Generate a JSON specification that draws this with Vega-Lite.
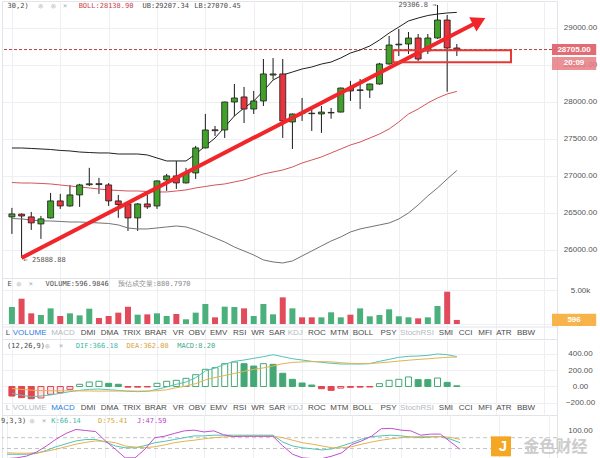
{
"$schema": "https://vega.github.io/schema/vega-lite/v6.json",
"padding": 0, "spacing": 0, "bounds": "flush", "background": "#ffffff",
"config": {"view": {"stroke": "#e2e4ea"},
 "axisX": {"title": null, "labels": false, "ticks": false, "domain": false, "grid": true, "gridColor": "#edeff3", "values": [5.9, 11.9, 17.9, 23.9, 29.9, 35.9, 41.9, 47.9, 53.9]},
 "axisY": {"title": null, "ticks": false, "domain": false, "grid": true, "gridColor": "#edeff3", "labelAlign": "center", "labelPadding": 23, "labelFont": "Liberation Sans", "labelFontSize": 8, "labelColor": "#555555"}},
"datasets": {
"candles": [
{"i":0,"o":26443,"h":26565,"l":26213,"c":26483,"dir":"G","vol":2500,"up":27374,"mid":26908,"lo":26421,"hist":-117,"hk":"RS","hs":"R","dif":-84,"dea":-25,"k":34,"d":38,"j":22},
{"i":1,"o":26480,"h":26490,"l":25888.88,"c":26455,"dir":"R","vol":3720,"up":27374,"mid":26901,"lo":26415,"hist":-137,"hk":"RS","hs":"R","dif":-108,"dea":-35,"k":34,"d":37,"j":24},
{"i":2,"o":26443,"h":26510,"l":26267,"c":26362,"dir":"R","vol":1570,"up":27368,"mid":26901,"lo":26401,"hist":-150,"hk":"RS","hs":"R","dif":-125,"dea":-45,"k":34,"d":37,"j":29},
{"i":3,"o":26348,"h":26456,"l":26146,"c":26416,"dir":"G","vol":1320,"up":27361,"mid":26895,"lo":26388,"hist":-141,"hk":"RH","hs":"R","dif":-117,"dea":-50,"k":36,"d":38,"j":40},
{"i":4,"o":26429,"h":26767,"l":26420,"c":26659,"dir":"G","vol":2300,"up":27354,"mid":26888,"lo":26388,"hist":-96,"hk":"RH","hs":"R","dif":-103,"dea":-52,"k":45,"d":42,"j":57},
{"i":5,"o":26659,"h":26754,"l":26551,"c":26591,"dir":"R","vol":1180,"up":27341,"mid":26874,"lo":26381,"hist":-76,"hk":"RH","hs":"R","dif":-84,"dea":-53,"k":55,"d":48,"j":76},
{"i":6,"o":26591,"h":26875,"l":26580,"c":26740,"dir":"G","vol":1570,"up":27334,"mid":26861,"lo":26374,"hist":-35,"hk":"RH","hs":"R","dif":-63,"dea":-53,"k":63,"d":55,"j":92},
{"i":7,"o":26740,"h":26890,"l":26578,"c":26875,"dir":"G","vol":1270,"up":27320,"mid":26847,"lo":26374,"hist":27,"hk":"GH","hs":"G","dif":-47,"dea":-54,"k":71,"d":62,"j":103},
{"i":8,"o":26878,"h":27106,"l":26860,"c":26890,"dir":"G","vol":2250,"up":27313,"mid":26834,"lo":26367,"hist":55,"hk":"GH","hs":"G","dif":-35,"dea":-55,"k":75,"d":67,"j":100},
{"i":9,"o":26892,"h":26970,"l":26754,"c":26880,"dir":"R","vol":880,"up":27307,"mid":26820,"lo":26361,"hist":64,"hk":"GH","hs":"G","dif":-31,"dea":-56,"k":75,"d":71,"j":97},
{"i":10,"o":26875,"h":26900,"l":26591,"c":26659,"dir":"R","vol":1180,"up":27307,"mid":26807,"lo":26354,"hist":39,"hk":"GS","hs":"G","dif":-39,"dea":-56,"k":68,"d":70,"j":71},
{"i":11,"o":26659,"h":26740,"l":26430,"c":26610,"dir":"R","vol":1670,"up":27293,"mid":26800,"lo":26334,"hist":27,"hk":"GS","hs":"G","dif":-47,"dea":-56,"k":57,"d":66,"j":48},
{"i":12,"o":26618,"h":26630,"l":26253,"c":26429,"dir":"R","vol":2550,"up":27293,"mid":26793,"lo":26293,"hist":-8,"hk":"RS","hs":"R","dif":-59,"dea":-55,"k":52,"d":57,"j":24},
{"i":13,"o":26429,"h":26630,"l":26253,"c":26618,"dir":"G","vol":1370,"up":27293,"mid":26793,"lo":26280,"hist":-8,"hk":"RS","hs":"R","dif":-63,"dea":-56,"k":52,"d":54,"j":24},
{"i":14,"o":26618,"h":26740,"l":26551,"c":26578,"dir":"R","vol":1420,"up":27280,"mid":26786,"lo":26280,"hist":-6,"hk":"RS","hs":"R","dif":-59,"dea":-56,"k":58,"d":52,"j":48},
{"i":15,"o":26591,"h":26935,"l":26551,"c":26929,"dir":"G","vol":1570,"up":27239,"mid":26780,"lo":26293,"hist":39,"hk":"GH","hs":"G","dif":-35,"dea":-52,"k":66,"d":55,"j":80},
{"i":16,"o":26943,"h":27024,"l":26794,"c":26997,"dir":"G","vol":1180,"up":27199,"mid":26780,"lo":26307,"hist":64,"hk":"GH","hs":"G","dif":-6,"dea":-40,"k":70,"d":60,"j":84},
{"i":17,"o":26997,"h":27200,"l":26821,"c":26902,"dir":"R","vol":1470,"up":27199,"mid":26793,"lo":26320,"hist":76,"hk":"GH","hs":"G","dif":27,"dea":-15,"k":75,"d":66,"j":92},
{"i":18,"o":26902,"h":27105,"l":26895,"c":27037,"dir":"G","vol":690,"up":27199,"mid":26807,"lo":26307,"hist":100,"hk":"GH","hs":"G","dif":55,"dea":5,"k":80,"d":70,"j":99},
{"i":19,"o":27037,"h":27402,"l":26956,"c":27375,"dir":"G","vol":1670,"up":27293,"mid":26834,"lo":26266,"hist":145,"hk":"GH","hs":"G","dif":108,"dea":35,"k":85,"d":73,"j":101},
{"i":20,"o":27375,"h":27834,"l":27370,"c":27618,"dir":"G","vol":2940,"up":27401,"mid":26854,"lo":26212,"hist":211,"hk":"GH","hs":"G","dif":190,"dea":80,"k":85,"d":77,"j":96},
{"i":21,"o":27620,"h":27672,"l":27537,"c":27608,"dir":"R","vol":980,"up":27509,"mid":26874,"lo":26158,"hist":231,"hk":"GH","hs":"G","dif":227,"dea":110,"k":87,"d":80,"j":99},
{"i":22,"o":27618,"h":28000,"l":27510,"c":27996,"dir":"G","vol":2550,"up":27658,"mid":26888,"lo":26104,"hist":280,"hk":"GH","hs":"G","dif":272,"dea":135,"k":87,"d":82,"j":88},
{"i":23,"o":27996,"h":28239,"l":27807,"c":28050,"dir":"G","vol":2500,"up":27807,"mid":26915,"lo":26036,"hist":300,"hk":"GH","hs":"G","dif":309,"dea":160,"k":87,"d":84,"j":83},
{"i":24,"o":28064,"h":28199,"l":27712,"c":27901,"dir":"R","vol":2300,"up":27915,"mid":26942,"lo":25982,"hist":280,"hk":"GS","hs":"G","dif":325,"dea":185,"k":87,"d":84,"j":84},
{"i":25,"o":27901,"h":28145,"l":27834,"c":28010,"dir":"G","vol":1180,"up":28009,"mid":26982,"lo":25928,"hist":251,"hk":"GS","hs":"G","dif":346,"dea":210,"k":87,"d":84,"j":84},
{"i":26,"o":28010,"h":28577,"l":27942,"c":28375,"dir":"G","vol":2940,"up":28145,"mid":27023,"lo":25861,"hist":280,"hk":"GH","hs":"G","dif":366,"dea":228,"k":87,"d":84,"j":84},
{"i":27,"o":28360,"h":28590,"l":28300,"c":28375,"dir":"G","vol":1420,"up":28293,"mid":27050,"lo":25834,"hist":272,"hk":"GS","hs":"G","dif":390,"dea":252,"k":87,"d":84,"j":84},
{"i":28,"o":28375,"h":28577,"l":27510,"c":27740,"dir":"R","vol":3920,"up":28361,"mid":27077,"lo":25820,"hist":162,"hk":"GS","hs":"G","dif":366,"dea":280,"k":68,"d":80,"j":57},
{"i":29,"o":27726,"h":27840,"l":27361,"c":27834,"dir":"G","vol":2300,"up":28401,"mid":27117,"lo":25847,"hist":88,"hk":"GS","hs":"G","dif":341,"dea":295,"k":57,"d":73,"j":34},
{"i":30,"o":27852,"h":28050,"l":27740,"c":27843,"dir":"R","vol":980,"up":28442,"mid":27171,"lo":25915,"hist":43,"hk":"GS","hs":"G","dif":325,"dea":302,"k":52,"d":66,"j":24},
{"i":31,"o":27845,"h":27905,"l":27605,"c":27838,"dir":"R","vol":980,"up":28469,"mid":27212,"lo":25982,"hist":18,"hk":"GS","hs":"G","dif":309,"dea":305,"k":49,"d":62,"j":22},
{"i":32,"o":27834,"h":27942,"l":27578,"c":27860,"dir":"G","vol":980,"up":28509,"mid":27253,"lo":26050,"hist":-27,"hk":"RS","hs":"R","dif":297,"dea":305,"k":46,"d":57,"j":22},
{"i":33,"o":27848,"h":27915,"l":27770,"c":27855,"dir":"G","vol":1720,"up":28536,"mid":27307,"lo":26117,"hist":-47,"hk":"RS","hs":"R","dif":285,"dea":302,"k":49,"d":52,"j":29},
{"i":34,"o":27860,"h":28190,"l":27855,"c":28185,"dir":"G","vol":980,"up":28591,"mid":27361,"lo":26172,"hist":-20,"hk":"RH","hs":"R","dif":276,"dea":292,"k":57,"d":52,"j":38},
{"i":35,"o":28185,"h":28280,"l":28010,"c":28145,"dir":"R","vol":1370,"up":28658,"mid":27415,"lo":26239,"hist":-10,"hk":"RS","hs":"R","dif":276,"dea":284,"k":66,"d":55,"j":61},
{"i":36,"o":28152,"h":28307,"l":27901,"c":28160,"dir":"G","vol":2300,"up":28699,"mid":27455,"lo":26280,"hist":-8,"hk":"RS","hs":"R","dif":276,"dea":281,"k":76,"d":62,"j":71},
{"i":37,"o":28158,"h":28245,"l":28050,"c":28239,"dir":"G","vol":1130,"up":28753,"mid":27509,"lo":26307,"hist":-6,"hk":"RS","hs":"R","dif":280,"dea":283,"k":83,"d":68,"j":84},
{"i":38,"o":28239,"h":28525,"l":28230,"c":28510,"dir":"G","vol":1320,"up":28834,"mid":27563,"lo":26334,"hist":35,"hk":"GH","hs":"G","dif":309,"dea":290,"k":85,"d":73,"j":105},
{"i":39,"o":28510,"h":28888,"l":28500,"c":28766,"dir":"G","vol":2160,"up":28928,"mid":27631,"lo":26361,"hist":76,"hk":"GH","hs":"G","dif":333,"dea":300,"k":87,"d":77,"j":106},
{"i":40,"o":28768,"h":28982,"l":28618,"c":28778,"dir":"G","vol":1130,"up":29009,"mid":27726,"lo":26415,"hist":88,"hk":"GH","hs":"G","dif":358,"dea":312,"k":85,"d":80,"j":101},
{"i":41,"o":28780,"h":28942,"l":28645,"c":28861,"dir":"G","vol":980,"up":29091,"mid":27834,"lo":26496,"hist":117,"hk":"GH","hs":"G","dif":370,"dea":322,"k":82,"d":82,"j":99},
{"i":42,"o":28861,"h":28915,"l":28550,"c":28577,"dir":"R","vol":830,"up":29131,"mid":27901,"lo":26604,"hist":84,"hk":"GS","hs":"G","dif":374,"dea":332,"k":80,"d":83,"j":87},
{"i":43,"o":28686,"h":28915,"l":28645,"c":28861,"dir":"G","vol":980,"up":29165,"mid":27982,"lo":26726,"hist":84,"hk":"GS","hs":"G","dif":382,"dea":340,"k":82,"d":83,"j":90},
{"i":44,"o":28861,"h":29306.8,"l":28850,"c":29104,"dir":"G","vol":2650,"up":29185,"mid":28050,"lo":26834,"hist":104,"hk":"GH","hs":"G","dif":399,"dea":350,"k":83,"d":83,"j":90},
{"i":45,"o":29104,"h":29172,"l":28135,"c":28726,"dir":"R","vol":4750,"up":29199,"mid":28104,"lo":26955,"hist":51,"hk":"GS","hs":"G","dif":390,"dea":358,"k":76,"d":81,"j":69},
{"i":46,"o":28726,"h":28780,"l":28618,"c":28705,"dir":"R","vol":597,"up":29207.34,"mid":28138.9,"lo":27070.45,"hist":8.2,"hk":"GS","hs":"G","dif":366.18,"dea":362.08,"k":66.14,"d":75.41,"j":47.59}
],
"tabs": [
{"t":"L","i":-0.41,"s1":"n","s2":"m"},
{"t":"VOLUME","i":1.83,"s1":"a","s2":"m"},
{"t":"MACD","i":5.28,"s1":"m","s2":"a"},
{"t":"DMI","i":7.87,"s1":"n","s2":"n"},
{"t":"DMA","i":10.1,"s1":"n","s2":"n"},
{"t":"TRIX","i":12.39,"s1":"n","s2":"n"},
{"t":"BRAR","i":14.87,"s1":"n","s2":"n"},
{"t":"VR","i":17.21,"s1":"n","s2":"n"},
{"t":"OBV","i":19.14,"s1":"n","s2":"n"},
{"t":"EMV","i":21.37,"s1":"n","s2":"n"},
{"t":"RSI","i":23.55,"s1":"n","s2":"n"},
{"t":"WR","i":25.43,"s1":"n","s2":"n"},
{"t":"SAR","i":27.41,"s1":"n","s2":"n"},
{"t":"KDJ","i":29.29,"s1":"m","s2":"m"},
{"t":"ROC","i":31.52,"s1":"n","s2":"n"},
{"t":"MTM","i":33.86,"s1":"n","s2":"n"},
{"t":"BOLL","i":36.29,"s1":"n","s2":"n"},
{"t":"PSY","i":38.93,"s1":"n","s2":"n"},
{"t":"StochRSI","i":41.88,"s1":"m","s2":"m"},
{"t":"SMI","i":44.87,"s1":"n","s2":"n"},
{"t":"CCI","i":46.9,"s1":"n","s2":"n"},
{"t":"MFI","i":48.93,"s1":"n","s2":"n"},
{"t":"ATR","i":50.86,"s1":"n","s2":"n"},
{"t":"BBW","i":53.15,"s1":"n","s2":"n"}
]
},
"vconcat": [
{
"width": 555, "height": 277,
"resolve": {"scale": {"color": "independent", "fill": "independent", "stroke": "independent", "opacity": "independent"}},
"layer": [
{"data": {"name": "candles"},
 "mark": {"type": "rule", "color": "#1a1a1a", "strokeWidth": 1},
 "encoding": {
  "x": {"field": "i", "type": "quantitative", "scale": {"domain": [-0.5076, 55.838], "nice": false, "zero": false}},
  "y": {"field": "l", "type": "quantitative", "scale": {"domain": [25617, 29361], "nice": false, "zero": false},
   "axis": {"orient": "right", "values": [26000, 26500, 27000, 27500, 28000, 28500, 29000], "format": ".2f"}},
  "y2": {"field": "h"}}},
{"data": {"values": [{"p": 28705}]},
 "mark": {"type": "rule", "color": "#b5484a", "strokeDash": [3, 2], "strokeWidth": 1},
 "encoding": {"y": {"field": "p", "type": "quantitative", "scale": {"domain": [25617, 29361], "nice": false, "zero": false},
   "axis": {"orient": "right", "values": [26000, 26500, 27000, 27500, 28000, 28500, 29000], "format": ".2f"}}}},
{"data": {"name": "candles"},
 "mark": {"type": "line", "color": "#202020", "strokeWidth": 1},
 "encoding": {"x": {"field": "i", "type": "quantitative", "scale": {"domain": [-0.5076, 55.838], "nice": false, "zero": false}},
  "y": {"field": "up", "type": "quantitative", "scale": {"domain": [25617, 29361], "nice": false, "zero": false},
   "axis": {"orient": "right", "values": [26000, 26500, 27000, 27500, 28000, 28500, 29000], "format": ".2f"}}}},
{"data": {"name": "candles"},
 "mark": {"type": "line", "color": "#d4545a", "strokeWidth": 1},
 "encoding": {"x": {"field": "i", "type": "quantitative", "scale": {"domain": [-0.5076, 55.838], "nice": false, "zero": false}},
  "y": {"field": "mid", "type": "quantitative", "scale": {"domain": [25617, 29361], "nice": false, "zero": false},
   "axis": {"orient": "right", "values": [26000, 26500, 27000, 27500, 28000, 28500, 29000], "format": ".2f"}}}},
{"data": {"name": "candles"},
 "mark": {"type": "line", "color": "#737373", "strokeWidth": 1},
 "encoding": {"x": {"field": "i", "type": "quantitative", "scale": {"domain": [-0.5076, 55.838], "nice": false, "zero": false}},
  "y": {"field": "lo", "type": "quantitative", "scale": {"domain": [25617, 29361], "nice": false, "zero": false},
   "axis": {"orient": "right", "values": [26000, 26500, 27000, 27500, 28000, 28500, 29000], "format": ".2f"}}}},
{"data": {"name": "candles"},
 "mark": {"type": "bar", "size": 6, "stroke": "#1a1a1a", "strokeWidth": 0.8},
 "encoding": {"x": {"field": "i", "type": "quantitative", "scale": {"domain": [-0.5076, 55.838], "nice": false, "zero": false}},
  "y": {"field": "o", "type": "quantitative", "scale": {"domain": [25617, 29361], "nice": false, "zero": false},
   "axis": {"orient": "right", "values": [26000, 26500, 27000, 27500, 28000, 28500, 29000], "format": ".2f"}},
  "y2": {"field": "c"},
  "fill": {"field": "dir", "type": "nominal", "scale": {"domain": ["G", "R"], "range": ["#40a02a", "#e8343f"]}, "legend": null}}},
{"data": {"values": [{"i": 1, "p": 25888.88}, {"i": 48.3, "p": 29088}]},
 "mark": {"type": "line", "color": "#f0262a", "strokeWidth": 4},
 "encoding": {"x": {"field": "i", "type": "quantitative", "scale": {"domain": [-0.5076, 55.838], "nice": false, "zero": false}},
  "y": {"field": "p", "type": "quantitative", "scale": {"domain": [25617, 29361], "nice": false, "zero": false},
   "axis": {"orient": "right", "values": [26000, 26500, 27000, 27500, 28000, 28500, 29000], "format": ".2f"}}}},
{"data": {"values": [{"i": 48.3, "p": 29088}]},
 "mark": {"type": "point", "shape": "triangle-right", "size": 260, "angle": 333.3, "filled": true, "color": "#f0262a", "opacity": 1},
 "encoding": {"x": {"field": "i", "type": "quantitative", "scale": {"domain": [-0.5076, 55.838], "nice": false, "zero": false}},
  "y": {"field": "p", "type": "quantitative", "scale": {"domain": [25617, 29361], "nice": false, "zero": false},
   "axis": {"orient": "right", "values": [26000, 26500, 27000, 27500, 28000, 28500, 29000], "format": ".2f"}}}},
{"data": {"values": [{"i": 39.42, "i2": 51.6, "p": 28695, "p2": 28533}]},
 "mark": {"type": "rect", "fill": "transparent", "stroke": "#e53935", "strokeWidth": 2},
 "encoding": {"x": {"field": "i", "type": "quantitative", "scale": {"domain": [-0.5076, 55.838], "nice": false, "zero": false}},
  "x2": {"field": "i2"},
  "y": {"field": "p", "type": "quantitative", "scale": {"domain": [25617, 29361], "nice": false, "zero": false},
   "axis": {"orient": "right", "values": [26000, 26500, 27000, 27500, 28000, 28500, 29000], "format": ".2f"}},
  "y2": {"field": "p2"}}},
{"data": {"values": [{"i": -0.45, "t": "30,2)", "k": "dark"}, {"i": 2.74, "t": "◎", "k": "icon"}, {"i": 4.06, "t": "◎", "k": "icon"}, {"i": 5.28, "t": "✕", "k": "icon"}, {"i": 6.9, "t": "BOLL:28138.90", "k": "boll"}, {"i": 13.5, "t": "UB:29207.34", "k": "dark"}, {"i": 18.85, "t": "LB:27070.45", "k": "dark"}]},
 "mark": {"type": "text", "align": "left", "baseline": "middle", "font": "DejaVu Sans Mono", "fontSize": 7},
 "encoding": {"x": {"field": "i", "type": "quantitative", "scale": {"domain": [-0.5076, 55.838], "nice": false, "zero": false}},
  "y": {"datum": 29293, "type": "quantitative", "scale": {"domain": [25617, 29361], "nice": false, "zero": false},
   "axis": {"orient": "right", "values": [26000, 26500, 27000, 27500, 28000, 28500, 29000], "format": ".2f"}},
  "text": {"field": "t"},
  "color": {"field": "k", "type": "nominal", "scale": {"domain": ["dark", "icon", "boll"], "range": ["#4a4a4a", "#a8a8a8", "#c7434c"]}, "legend": null}}},
{"data": {"values": [{"i": 44, "p": 29306.8, "t": "29306.8 →"}]},
 "mark": {"type": "text", "align": "right", "baseline": "middle", "dx": -1, "font": "DejaVu Sans Mono", "fontSize": 7, "color": "#555555"},
 "encoding": {"x": {"field": "i", "type": "quantitative", "scale": {"domain": [-0.5076, 55.838], "nice": false, "zero": false}},
  "y": {"field": "p", "type": "quantitative", "scale": {"domain": [25617, 29361], "nice": false, "zero": false},
   "axis": {"orient": "right", "values": [26000, 26500, 27000, 27500, 28000, 28500, 29000], "format": ".2f"}},
  "text": {"field": "t"}}},
{"data": {"values": [{"i": 1, "p": 25888.88, "t": "← 25888.88"}]},
 "mark": {"type": "text", "align": "left", "baseline": "middle", "dx": 2, "dy": 2, "font": "DejaVu Sans Mono", "fontSize": 7, "color": "#555555"},
 "encoding": {"x": {"field": "i", "type": "quantitative", "scale": {"domain": [-0.5076, 55.838], "nice": false, "zero": false}},
  "y": {"field": "p", "type": "quantitative", "scale": {"domain": [25617, 29361], "nice": false, "zero": false},
   "axis": {"orient": "right", "values": [26000, 26500, 27000, 27500, 28000, 28500, 29000], "format": ".2f"}},
  "text": {"field": "t"}}},
{"data": {"values": [{"i": 55.838, "i2": 60.41, "p": 28780, "p2": 28631, "k": "a"}, {"i": 55.838, "i2": 60.41, "p": 28604, "p2": 28429, "k": "b"}]},
 "mark": {"type": "rect"},
 "encoding": {"x": {"field": "i", "type": "quantitative", "scale": {"domain": [-0.5076, 55.838], "nice": false, "zero": false}},
  "x2": {"field": "i2"},
  "y": {"field": "p", "type": "quantitative", "scale": {"domain": [25617, 29361], "nice": false, "zero": false},
   "axis": {"orient": "right", "values": [26000, 26500, 27000, 27500, 28000, 28500, 29000], "format": ".2f"}},
  "y2": {"field": "p2"},
  "fill": {"field": "k", "type": "nominal", "scale": {"domain": ["a", "b"], "range": ["#e2646d", "#e77c83"]}, "legend": null},
  "opacity": {"field": "k", "type": "nominal", "scale": {"domain": ["a", "b"], "range": [0.95, 0.85]}, "legend": null}}},
{"data": {"values": [{"i": 58.12, "p": 28705, "t": "28705.00"}, {"i": 58.12, "p": 28517, "t": "20:09"}]},
 "mark": {"type": "text", "align": "center", "baseline": "middle", "font": "Liberation Sans", "fontSize": 8, "fontWeight": "bold", "color": "#ffffff"},
 "encoding": {"x": {"field": "i", "type": "quantitative", "scale": {"domain": [-0.5076, 55.838], "nice": false, "zero": false}},
  "y": {"field": "p", "type": "quantitative", "scale": {"domain": [25617, 29361], "nice": false, "zero": false},
   "axis": {"orient": "right", "values": [26000, 26500, 27000, 27500, 28000, 28500, 29000], "format": ".2f"}},
  "text": {"field": "t"}}}
]
},
{
"width": 555, "height": 61,
"resolve": {"scale": {"color": "independent", "fill": "independent", "stroke": "independent"}},
"layer": [
{"data": {"name": "candles"},
 "mark": {"type": "bar", "size": 6},
 "encoding": {
  "x": {"field": "i", "type": "quantitative", "scale": {"domain": [-0.5076, 55.838], "nice": false, "zero": false}},
  "y": {"field": "vol", "type": "quantitative", "scale": {"domain": [-2206, 6765], "nice": false, "zero": false},
   "axis": {"orient": "right", "values": [0, 5000], "labelExpr": "datum.value == 0 ? '0' : '5.00k'"}},
  "y2": {"datum": 0},
  "fill": {"field": "dir", "type": "nominal", "scale": {"domain": ["G", "R"], "range": ["#4bb07c", "#e24b5b"]}, "legend": null}}},
{"data": {"values": [{"v": -441}]},
 "mark": {"type": "rule", "color": "#e2e4ea", "strokeWidth": 1},
 "encoding": {"y": {"field": "v", "type": "quantitative", "scale": {"domain": [-2206, 6765], "nice": false, "zero": false},
   "axis": {"orient": "right", "values": [0, 5000], "labelExpr": "datum.value == 0 ? '0' : '5.00k'"}}}},
{"data": {"values": [{"i": -0.45, "t": "E", "k": "dark"}, {"i": 0.5, "t": "◎", "k": "icon"}, {"i": 1.73, "t": "✕", "k": "icon"}, {"i": 3.48, "t": "VOLUME:596.9846", "k": "dark"}, {"i": 10.93, "t": "预估成交量:880.7970", "k": "est"}]},
 "mark": {"type": "text", "align": "left", "baseline": "middle", "font": "DejaVu Sans Mono", "fontSize": 7},
 "encoding": {"x": {"field": "i", "type": "quantitative", "scale": {"domain": [-0.5076, 55.838], "nice": false, "zero": false}},
  "y": {"datum": 5882, "type": "quantitative", "scale": {"domain": [-2206, 6765], "nice": false, "zero": false},
   "axis": {"orient": "right", "values": [0, 5000], "labelExpr": "datum.value == 0 ? '0' : '5.00k'"}},
  "text": {"field": "t"},
  "color": {"field": "k", "type": "nominal", "scale": {"domain": ["dark", "icon", "est"], "range": ["#4a4a4a", "#a8a8a8", "#8a8a8a"]}, "legend": null}}},
{"data": {"name": "tabs"},
 "mark": {"type": "text", "align": "center", "baseline": "middle", "font": "Liberation Sans", "fontSize": 8},
 "encoding": {"x": {"field": "i", "type": "quantitative", "scale": {"domain": [-0.5076, 55.838], "nice": false, "zero": false}},
  "y": {"datum": -1324, "type": "quantitative", "scale": {"domain": [-2206, 6765], "nice": false, "zero": false},
   "axis": {"orient": "right", "values": [0, 5000], "labelExpr": "datum.value == 0 ? '0' : '5.00k'"}},
  "text": {"field": "t"},
  "color": {"field": "s1", "type": "nominal", "scale": {"domain": ["a", "m", "n"], "range": ["#2f7de1", "#b5b9c2", "#4a4a4a"]}, "legend": null}}},
{"data": {"values": [{"i": 55.838, "i2": 60.41, "v": 1515, "v2": -294}]},
 "mark": {"type": "rect", "color": "#f5b041", "opacity": 0.95},
 "encoding": {"x": {"field": "i", "type": "quantitative", "scale": {"domain": [-0.5076, 55.838], "nice": false, "zero": false}},
  "x2": {"field": "i2"},
  "y": {"field": "v", "type": "quantitative", "scale": {"domain": [-2206, 6765], "nice": false, "zero": false},
   "axis": {"orient": "right", "values": [0, 5000], "labelExpr": "datum.value == 0 ? '0' : '5.00k'"}},
  "y2": {"field": "v2"}}},
{"data": {"values": [{"i": 58.12, "v": 588, "t": "596"}]},
 "mark": {"type": "text", "align": "center", "baseline": "middle", "font": "Liberation Sans", "fontSize": 8, "fontWeight": "bold", "color": "#ffffff"},
 "encoding": {"x": {"field": "i", "type": "quantitative", "scale": {"domain": [-0.5076, 55.838], "nice": false, "zero": false}},
  "y": {"field": "v", "type": "quantitative", "scale": {"domain": [-2206, 6765], "nice": false, "zero": false},
   "axis": {"orient": "right", "values": [0, 5000], "labelExpr": "datum.value == 0 ? '0' : '5.00k'"}},
  "text": {"field": "t"}}}
]
},
{
"width": 555, "height": 76,
"resolve": {"scale": {"color": "independent", "fill": "independent", "stroke": "independent"}},
"layer": [
{"data": {"name": "candles"},
 "mark": {"type": "bar", "size": 6, "strokeWidth": 1},
 "encoding": {
  "x": {"field": "i", "type": "quantitative", "scale": {"domain": [-0.5076, 55.838], "nice": false, "zero": false}},
  "y": {"field": "hist", "type": "quantitative", "scale": {"domain": [-349.7, 582.8], "nice": false, "zero": false},
   "axis": {"orient": "right", "values": [-200, 0, 200, 400], "format": ".2f"}},
  "y2": {"datum": 0},
  "fill": {"field": "hk", "type": "nominal", "scale": {"domain": ["GS", "GH", "RS", "RH"], "range": ["#44a875", "#ffffff", "#e2454f", "#fde3e5"]}, "legend": null},
  "stroke": {"field": "hs", "type": "nominal", "scale": {"domain": ["G", "R"], "range": ["#44a875", "#e2454f"]}, "legend": null}}},
{"data": {"name": "candles"},
 "mark": {"type": "line", "color": "#52c4b2", "strokeWidth": 1},
 "encoding": {"x": {"field": "i", "type": "quantitative", "scale": {"domain": [-0.5076, 55.838], "nice": false, "zero": false}},
  "y": {"field": "dif", "type": "quantitative", "scale": {"domain": [-349.7, 582.8], "nice": false, "zero": false},
   "axis": {"orient": "right", "values": [-200, 0, 200, 400], "format": ".2f"}}}},
{"data": {"name": "candles"},
 "mark": {"type": "line", "color": "#e3b253", "strokeWidth": 1},
 "encoding": {"x": {"field": "i", "type": "quantitative", "scale": {"domain": [-0.5076, 55.838], "nice": false, "zero": false}},
  "y": {"field": "dea", "type": "quantitative", "scale": {"domain": [-349.7, 582.8], "nice": false, "zero": false},
   "axis": {"orient": "right", "values": [-200, 0, 200, 400], "format": ".2f"}}}},
{"data": {"values": [{"i": -0.5, "t": "(12,26,9)", "k": "dark"}, {"i": 3.45, "t": "◎", "k": "icon"}, {"i": 4.87, "t": "✕", "k": "icon"}, {"i": 6.6, "t": "DIF:366.18", "k": "dif"}, {"i": 11.85, "t": "DEA:362.08", "k": "dea"}, {"i": 17.09, "t": "MACD:8.20", "k": "macd"}]},
 "mark": {"type": "text", "align": "left", "baseline": "middle", "font": "DejaVu Sans Mono", "fontSize": 7},
 "encoding": {"x": {"field": "i", "type": "quantitative", "scale": {"domain": [-0.5076, 55.838], "nice": false, "zero": false}},
  "y": {"datum": 497, "type": "quantitative", "scale": {"domain": [-349.7, 582.8], "nice": false, "zero": false},
   "axis": {"orient": "right", "values": [-200, 0, 200, 400], "format": ".2f"}},
  "text": {"field": "t"},
  "color": {"field": "k", "type": "nominal", "scale": {"domain": ["dark", "icon", "dif", "dea", "macd"], "range": ["#4a4a4a", "#a8a8a8", "#3fb8a6", "#d9a440", "#3fae8a"]}, "legend": null}}},
{"data": {"name": "tabs"},
 "mark": {"type": "text", "align": "center", "baseline": "middle", "font": "Liberation Sans", "fontSize": 8},
 "encoding": {"x": {"field": "i", "type": "quantitative", "scale": {"domain": [-0.5076, 55.838], "nice": false, "zero": false}},
  "y": {"datum": -264, "type": "quantitative", "scale": {"domain": [-349.7, 582.8], "nice": false, "zero": false},
   "axis": {"orient": "right", "values": [-200, 0, 200, 400], "format": ".2f"}},
  "text": {"field": "t"},
  "color": {"field": "s2", "type": "nominal", "scale": {"domain": ["a", "m", "n"], "range": ["#2f7de1", "#b5b9c2", "#4a4a4a"]}, "legend": null}}}
]
},
{
"width": 555, "height": 44,
"resolve": {"scale": {"color": "independent", "fill": "independent", "stroke": "independent"}},
"layer": [
{"data": {"values": [{"v": 80}, {"v": 50}]},
 "mark": {"type": "rule", "color": "#c4c4c4", "strokeDash": [4, 3], "strokeWidth": 1},
 "encoding": {"y": {"field": "v", "type": "quantitative", "scale": {"domain": [20.8, 143.1], "nice": false, "zero": false},
   "axis": {"orient": "right", "values": [100], "format": ".2f", "grid": false}}}},
{"data": {"name": "candles"},
 "mark": {"type": "line", "color": "#52c4b2", "strokeWidth": 1},
 "encoding": {
  "x": {"field": "i", "type": "quantitative", "scale": {"domain": [-0.5076, 55.838], "nice": false, "zero": false}},
  "y": {"field": "k", "type": "quantitative", "scale": {"domain": [20.8, 143.1], "nice": false, "zero": false},
   "axis": {"orient": "right", "values": [100], "format": ".2f", "grid": false}}}},
{"data": {"name": "candles"},
 "mark": {"type": "line", "color": "#e3b253", "strokeWidth": 1},
 "encoding": {"x": {"field": "i", "type": "quantitative", "scale": {"domain": [-0.5076, 55.838], "nice": false, "zero": false}},
  "y": {"field": "d", "type": "quantitative", "scale": {"domain": [20.8, 143.1], "nice": false, "zero": false},
   "axis": {"orient": "right", "values": [100], "format": ".2f", "grid": false}}}},
{"data": {"name": "candles"},
 "mark": {"type": "line", "color": "#c04fd0", "strokeWidth": 1},
 "encoding": {"x": {"field": "i", "type": "quantitative", "scale": {"domain": [-0.5076, 55.838], "nice": false, "zero": false}},
  "y": {"field": "j", "type": "quantitative", "scale": {"domain": [20.8, 143.1], "nice": false, "zero": false},
   "axis": {"orient": "right", "values": [100], "format": ".2f", "grid": false}}}},
{"data": {"values": [{"i": -0.62, "t": "9,3,3)", "k": "dark"}, {"i": 2.34, "t": "◎", "k": "icon"}, {"i": 3.55, "t": "✕", "k": "icon"}, {"i": 4.5, "t": "K:66.14", "k": "kk"}, {"i": 9.24, "t": "D:75.41", "k": "dd"}, {"i": 13.2, "t": "J:47.59", "k": "jj"}]},
 "mark": {"type": "text", "align": "left", "baseline": "middle", "font": "DejaVu Sans Mono", "fontSize": 7},
 "encoding": {"x": {"field": "i", "type": "quantitative", "scale": {"domain": [-0.5076, 55.838], "nice": false, "zero": false}},
  "y": {"datum": 126.4, "type": "quantitative", "scale": {"domain": [20.8, 143.1], "nice": false, "zero": false},
   "axis": {"orient": "right", "values": [100], "format": ".2f", "grid": false}},
  "text": {"field": "t"},
  "color": {"field": "k", "type": "nominal", "scale": {"domain": ["dark", "icon", "kk", "dd", "jj"], "range": ["#4a4a4a", "#a8a8a8", "#3fb8a6", "#d9a440", "#b63fc9"]}, "legend": null}}},
{"data": {"values": [{"i": 50.15, "v": 56}]},
 "mark": {"type": "point", "shape": "square", "size": 400, "filled": true, "color": "#f5a623", "opacity": 1},
 "encoding": {"x": {"field": "i", "type": "quantitative", "scale": {"domain": [-0.5076, 55.838], "nice": false, "zero": false}},
  "y": {"field": "v", "type": "quantitative", "scale": {"domain": [20.8, 143.1], "nice": false, "zero": false},
   "axis": {"orient": "right", "values": [100], "format": ".2f", "grid": false}}}},
{"data": {"values": [{"i": 50.15, "v": 56, "t": "J"}]},
 "mark": {"type": "text", "align": "center", "baseline": "middle", "font": "Liberation Sans", "fontSize": 15, "fontWeight": "bold", "color": "#ffffff", "dx": 2},
 "encoding": {"x": {"field": "i", "type": "quantitative", "scale": {"domain": [-0.5076, 55.838], "nice": false, "zero": false}},
  "y": {"field": "v", "type": "quantitative", "scale": {"domain": [20.8, 143.1], "nice": false, "zero": false},
   "axis": {"orient": "right", "values": [100], "format": ".2f", "grid": false}},
  "text": {"field": "t"}}},
{"data": {"values": [{"i": 55.69, "v": 54, "t": "金色财经"}]},
 "mark": {"type": "text", "align": "center", "baseline": "middle", "font": "Noto Sans CJK SC", "fontSize": 16, "fontWeight": "bold", "color": "#cccccc"},
 "encoding": {"x": {"field": "i", "type": "quantitative", "scale": {"domain": [-0.5076, 55.838], "nice": false, "zero": false}},
  "y": {"field": "v", "type": "quantitative", "scale": {"domain": [20.8, 143.1], "nice": false, "zero": false},
   "axis": {"orient": "right", "values": [100], "format": ".2f", "grid": false}},
  "text": {"field": "t"}}}
]
}
]
}
